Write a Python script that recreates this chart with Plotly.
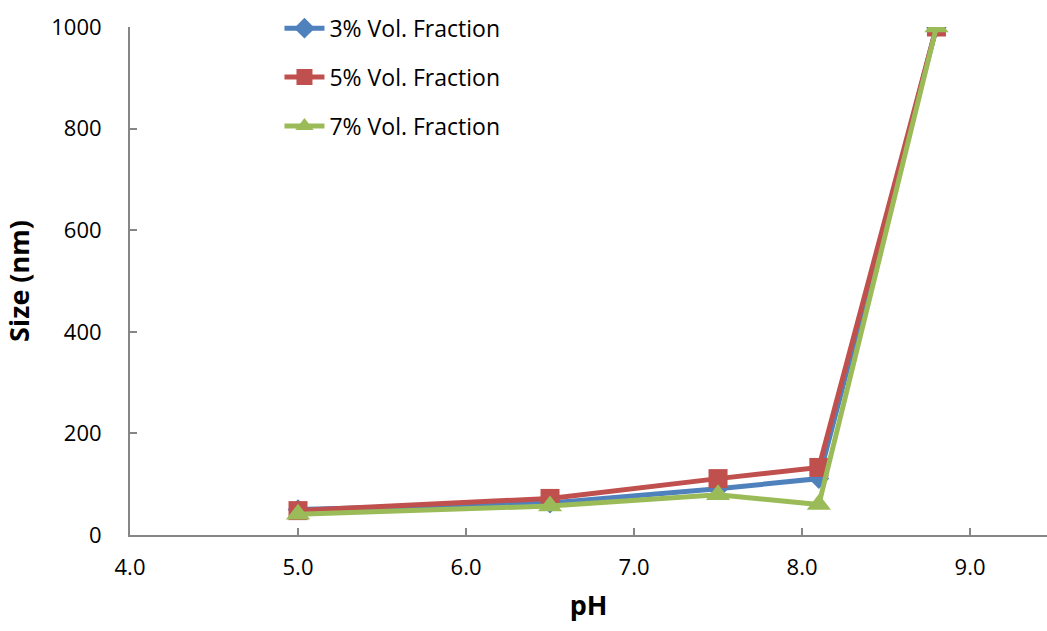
import plotly.graph_objects as go

ph = [5.0, 6.5, 7.5, 8.1, 8.8]
size_3 = [50, 63, 91, 111, 1000]
size_5 = [48, 72, 111, 133, 1000]
size_7 = [41, 57, 79, 60, 1000]

series = [
    ("3% Vol. Fraction", size_3, "#4F81BD", "diamond", 16),
    ("5% Vol. Fraction", size_5, "#C0504D", "square", 19),
    ("7% Vol. Fraction", size_7, "#9BBB59", "triangle-up", 21),
]

fig = go.Figure()
for i, (name, ys, col, sym, ms) in enumerate(series):
    fig.add_trace(go.Scatter(
        x=ph, y=ys, name=name, mode="lines+markers",
        line=dict(color=col, width=5),
        marker=dict(symbol=sym, size=ms, color=col),
        legendgroup=f"g{i}",
    ))

font = "Open Sans, DejaVu Sans, sans-serif"
axis_col = "#868686"
fig.update_layout(
    width=1047, height=631,
    margin=dict(l=130, r=0, t=27, b=96),
    plot_bgcolor="white", paper_bgcolor="white",
    font=dict(family=font, size=22, color="black"),
    showlegend=True,
    legend=dict(x=0.163, y=1.04, xanchor="left", yanchor="top",
                bgcolor="rgba(0,0,0,0)", tracegroupgap=16,
                font=dict(size=23), itemwidth=40),
    xaxis=dict(range=[4.0, 9.458], tickvals=[4, 5, 6, 7, 8, 9],
               ticktext=["4.0", "5.0", "6.0", "7.0", "8.0", "9.0"],
               showgrid=False, zeroline=False, showline=True,
               linecolor=axis_col, linewidth=2, ticks="inside",
               tickcolor=axis_col, ticklen=7, tickwidth=2,
               title=dict(text="<b>pH</b>", font=dict(size=27), standoff=16)),
    yaxis=dict(range=[0, 1000], tickvals=[0, 200, 400, 600, 800, 1000],
               showgrid=False, zeroline=False, showline=True,
               linecolor=axis_col, linewidth=2, ticks="inside",
               tickcolor=axis_col, ticklen=7, tickwidth=2,
               title=dict(text="<b>Size (nm)</b>", font=dict(size=27), standoff=24)),
)
fig.update_xaxes(ticklabelstandoff=12)
fig.update_yaxes(ticklabelstandoff=22)

fig.write_html("out.html")
